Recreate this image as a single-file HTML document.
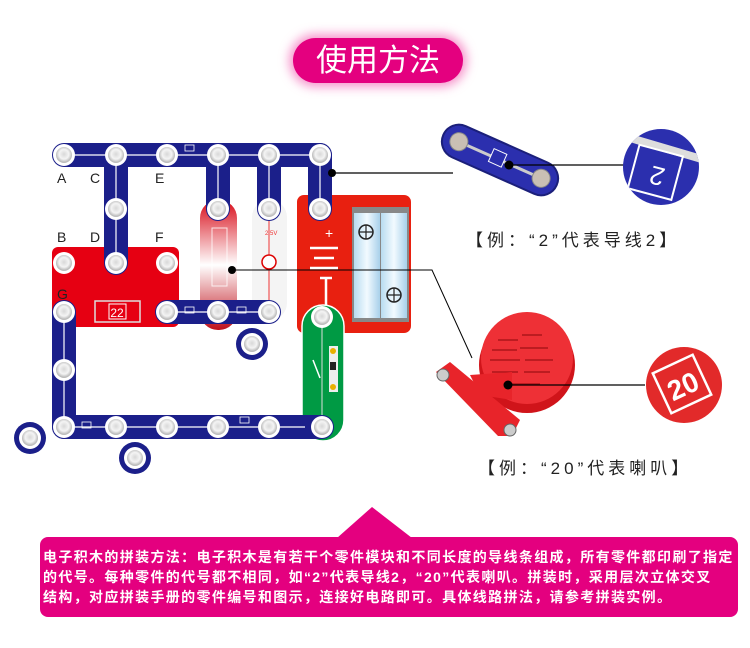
<!DOCTYPE html>
<html><head><meta charset="utf-8"><style>
html,body{margin:0;padding:0;background:#fff;}
body{width:750px;height:648px;overflow:hidden;position:relative;font-family:"Liberation Sans","Noto Sans CJK SC",sans-serif;}
svg{position:absolute;left:0;top:0;}
.lbl{position:absolute;font-size:17px;color:#222;letter-spacing:4px;white-space:nowrap;font-family:"Liberation Sans","Noto Sans CJK SC",sans-serif;}
.box{position:absolute;left:40px;top:537px;width:698px;height:80px;background:#e4007f;border-radius:8px;color:#fff;font-weight:bold;font-size:14px;letter-spacing:1.35px;line-height:20px;padding:10px 0 0 3px;box-sizing:border-box;white-space:nowrap;font-family:"Liberation Sans","Noto Sans CJK SC",sans-serif;}
.pill{position:absolute;left:293px;top:38px;width:170px;height:45px;background:#e4007f;border-radius:23px;box-shadow:0 0 10px 4px rgba(240,80,170,0.6);color:#fff;font-size:31px;text-align:center;line-height:45px;}
</style></head><body>
<div class="pill">使用方法</div>
<svg width="750" height="648" viewBox="0 0 750 648">
<defs>
<radialGradient id="sn" cx="0.5" cy="0.45" r="0.5"><stop offset="0" stop-color="#d8d8d8"/><stop offset="0.6" stop-color="#f4f4f4"/><stop offset="1" stop-color="#bbb"/></radialGradient>
<linearGradient id="spk" x1="0" y1="0" x2="0" y2="1"><stop offset="0" stop-color="#d80d1a"/><stop offset="0.5" stop-color="#fff"/><stop offset="1" stop-color="#c0101a"/></linearGradient>
<linearGradient id="cyl" x1="0" y1="0" x2="1" y2="0"><stop offset="0" stop-color="#b8dcf0"/><stop offset="0.5" stop-color="#f2faff"/><stop offset="1" stop-color="#a8d0ea"/></linearGradient>
<g id="s"><circle r="11" fill="#fff"/><circle r="8" fill="url(#sn)"/></g>
</defs>
<rect x="52" y="247" width="127" height="80" rx="6" fill="#e60012"/>
<rect x="95" y="301" width="45" height="21" fill="none" stroke="#ddd" stroke-width="1.5"/>
<rect x="109" y="304" width="17" height="15" fill="none" stroke="#fff"/>
<text x="117" y="317" font-size="12" fill="#fff" text-anchor="middle">22</text>
<text x="57" y="242" font-size="14" fill="#222">B</text><text x="90" y="242" font-size="14" fill="#222">D</text><text x="155" y="242" font-size="14" fill="#222">F</text>
<text x="57" y="183" font-size="14" fill="#222">A</text><text x="90" y="183" font-size="14" fill="#222">C</text><text x="155" y="183" font-size="14" fill="#222">E</text>
<text x="57" y="299" font-size="14" fill="#222">G</text>
<rect x="200" y="200" width="37" height="130" rx="18" fill="url(#spk)"/>
<rect x="212" y="228" width="15" height="58" fill="none" stroke="#fff" stroke-width="1" opacity="0.8"/>
<rect x="252" y="200" width="35" height="120" rx="17" fill="#f4f4f4"/>
<line x1="269" y1="215" x2="269" y2="310" stroke="#e33" stroke-width="1"/>
<circle cx="269" cy="262" r="7" fill="#fff" stroke="#d00" stroke-width="1.5"/>
<text x="265" y="235" font-size="6" fill="#e33">2.5V</text>
<rect x="297" y="195" width="114" height="138" rx="7" fill="#e82010"/>
<rect x="352" y="207" width="57" height="115" fill="#888"/>
<rect x="354" y="213" width="26" height="105" fill="url(#cyl)"/>
<rect x="381" y="213" width="26" height="105" fill="url(#cyl)"/>
<circle cx="366" cy="232" r="7" fill="none" stroke="#222" stroke-width="1.5"/><path d="M359 232h14M366 225v14" stroke="#222" stroke-width="1.2"/>
<circle cx="394" cy="295" r="7" fill="none" stroke="#222" stroke-width="1.5"/><path d="M387 295h14M394 288v14" stroke="#222" stroke-width="1.2"/>
<text x="325" y="238" font-size="14" fill="#fff">+</text>
<path d="M310 248h28M314 258h20M310 268h28M320 278h12M326 278v28" stroke="#fff" stroke-width="2.5"/>
<rect x="302" y="305" width="42" height="136" rx="21" fill="#009a44" stroke="#fff" stroke-width="1.5"/>
<line x1="322" y1="320" x2="322" y2="425" stroke="#ddd" stroke-width="1"/>
<rect x="329" y="346" width="9" height="46" fill="#eee"/><circle cx="333" cy="351" r="3" fill="#e8b000"/><circle cx="333" cy="387" r="3" fill="#e8b000"/><rect x="330" y="362" width="6" height="8" fill="#222"/>
<line x1="313" y1="360" x2="320" y2="378" stroke="#fff" stroke-width="1.5"/>
<g stroke="#1b1f8a" stroke-width="24" stroke-linecap="round" fill="none">
<line x1="64" y1="155" x2="320" y2="155"/>
<line x1="116" y1="155" x2="116" y2="263"/>
<line x1="218" y1="155" x2="218" y2="209"/>
<line x1="269" y1="155" x2="269" y2="209"/>
<line x1="320" y1="155" x2="320" y2="209"/>
<line x1="167" y1="312" x2="269" y2="312"/>
<line x1="64" y1="312" x2="64" y2="427"/>
<line x1="64" y1="427" x2="322" y2="427"/>
</g>
<g stroke="#fff" stroke-width="1.2">
<line x1="64" y1="155" x2="320" y2="155"/><line x1="116" y1="155" x2="116" y2="263"/><line x1="218" y1="155" x2="218" y2="209"/><line x1="269" y1="155" x2="269" y2="209"/><line x1="320" y1="155" x2="320" y2="209"/><line x1="167" y1="312" x2="269" y2="312"/><line x1="64" y1="312" x2="64" y2="427"/><line x1="64" y1="427" x2="305" y2="427"/>
</g>
<g fill="#1b1f8a"><circle cx="30" cy="438" r="16"/><circle cx="135" cy="458" r="16"/><circle cx="252" cy="344" r="16"/></g>
<g>
<use href="#s" x="64" y="155"/><use href="#s" x="116" y="155"/><use href="#s" x="167" y="155"/><use href="#s" x="218" y="155"/><use href="#s" x="269" y="155"/><use href="#s" x="320" y="155"/>
<use href="#s" x="116" y="209"/><use href="#s" x="218" y="209"/><use href="#s" x="269" y="209"/><use href="#s" x="320" y="209"/>
<use href="#s" x="64" y="263"/><use href="#s" x="116" y="263"/><use href="#s" x="167" y="263"/>
<use href="#s" x="64" y="312"/><use href="#s" x="167" y="312"/><use href="#s" x="218" y="312"/><use href="#s" x="269" y="312"/><use href="#s" x="322" y="317"/>
<use href="#s" x="64" y="370"/>
<use href="#s" x="64" y="427"/><use href="#s" x="116" y="427"/><use href="#s" x="167" y="427"/><use href="#s" x="218" y="427"/><use href="#s" x="269" y="427"/><use href="#s" x="322" y="427"/>
<use href="#s" x="30" y="438"/><use href="#s" x="135" y="458"/><use href="#s" x="252" y="344"/>
</g>
<g fill="none" stroke="#fff" stroke-width="0.8"><rect x="185" y="145" width="9" height="6"/><rect x="185" y="307" width="9" height="6"/><rect x="237" y="307" width="9" height="6"/><rect x="82" y="422" width="9" height="6"/><rect x="240" y="417" width="9" height="6"/></g>
<path d="M332 173H453" stroke="#000" stroke-width="1.2"/><circle cx="332" cy="173" r="4" fill="#000"/>
<path d="M232 270H432L472 358" stroke="#000" stroke-width="1" fill="none"/><circle cx="232" cy="270" r="4" fill="#000"/>
<g transform="translate(500,160) rotate(24)">
<rect x="-62" y="-17" width="124" height="34" rx="17" fill="#2b2fae" stroke="#1b1f7a" stroke-width="2"/>
<line x1="-45" y1="0" x2="45" y2="0" stroke="#ccc" stroke-width="3"/>
<circle cx="-45" cy="0" r="9" fill="#c9bfb4" stroke="#888"/><circle cx="45" cy="0" r="9" fill="#c9bfb4" stroke="#888"/>
<rect x="-10" y="-8" width="14" height="14" fill="#2b2fae" stroke="#fff"/>
</g>
<line x1="508" y1="165" x2="625" y2="165" stroke="#000" stroke-width="1.2"/><circle cx="509" cy="165" r="4.5" fill="#000"/>
<clipPath id="c1"><circle cx="661" cy="167" r="38"/></clipPath>
<g clip-path="url(#c1)"><rect x="620" y="125" width="85" height="85" fill="#2b2fae"/><path d="M620 135L705 160" stroke="#ddd" stroke-width="8"/><rect x="633" y="150" width="45" height="45" fill="none" stroke="#fff" stroke-width="2" transform="rotate(15 656 172)"/><text x="657" y="185" font-size="26" fill="#fff" text-anchor="middle" transform="rotate(195 657 176)">2</text></g>
<circle cx="527" cy="365" r="48" fill="#d0141a"/><circle cx="527" cy="358" r="46" fill="#ee3036"/>
<g stroke="#a01015" stroke-width="1.3">
<path d="M498 340h20M522 335h20M492 350h25M520 348h28M490 360h30M525 360h28M492 372h26M524 372h26M500 384h40"/>
</g>
<path d="M436 372L450 362L520 420L512 436L498 436Z" fill="#e8242a"/>
<path d="M470 375L512 372L512 400L480 395Z" fill="#e8242a"/>
<circle cx="443" cy="375" r="6" fill="#ccc" stroke="#666"/><circle cx="510" cy="430" r="6" fill="#ccc" stroke="#666"/>
<line x1="508" y1="385" x2="645" y2="385" stroke="#000" stroke-width="1.2"/><circle cx="508" cy="385" r="4.5" fill="#000"/>
<clipPath id="c2"><circle cx="684" cy="385" r="38"/></clipPath>
<g clip-path="url(#c2)"><rect x="640" y="340" width="90" height="90" fill="#e22a2a"/><rect x="660" y="362" width="44" height="44" fill="none" stroke="#fff" stroke-width="2.5" transform="rotate(-25 682 384)"/><text x="682" y="396" font-size="28" font-weight="bold" fill="#fff" text-anchor="middle" transform="rotate(-25 682 384)">20</text></g>
<path d="M337 538L372 507L412 538Z" fill="#e4007f"/>
</svg>
<div class="lbl" style="left:466px;top:226px;">【例：“2”代表导线2】</div>
<div class="lbl" style="left:478px;top:454px;">【例：“20”代表喇叭】</div>
<div class="box">电子积木的拼装方法：电子积木是有若干个零件模块和不同长度的导线条组成，所有零件都印刷了指定<br>的代号。每种零件的代号都不相同，如“2”代表导线2，“20”代表喇叭。拼装时，采用层次立体交叉<br>结构，对应拼装手册的零件编号和图示，连接好电路即可。具体线路拼法，请参考拼装实例。</div>
</body></html>
